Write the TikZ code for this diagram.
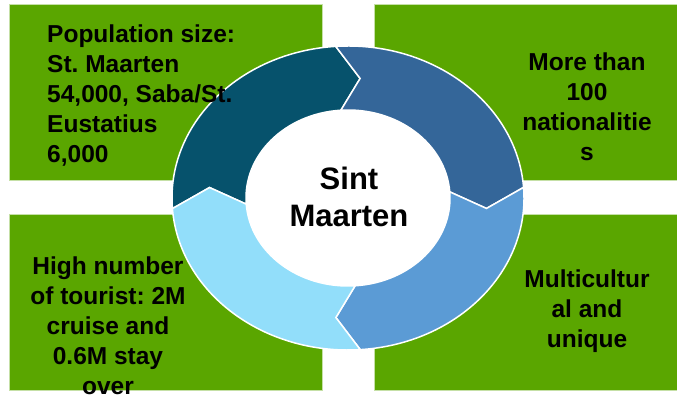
\documentclass[tikz,border=0pt]{standalone}
\usepackage{fontspec}
\setmainfont{Liberation Sans}
\usepackage{tikz}
\usetikzlibrary{positioning}
\frenchspacing
\definecolor{boxgreen}{RGB}{90,166,0}
\definecolor{segdark}{RGB}{6,82,108}
\definecolor{segmid}{RGB}{52,102,153}
\definecolor{seglight}{RGB}{91,155,213}
\definecolor{segcyan}{RGB}{146,222,250}
\tikzset{
    infobox/.style={fill=boxgreen, draw=boxgreen!35!white, line width=0.6pt},
    boxtext/.style={inner sep=0pt, align=center, font=\bfseries\fontsize{24.5}{30}\selectfont},
    hubtext/.style={inner sep=0pt, align=center, font=\bfseries\fontsize{31}{37}\selectfont},
    ringseg/.style={draw=white, line width=1.5pt, line join=miter},
}
\newcommand{\segment}[2]{%
    \path[ringseg, fill=#2] (#1:176 and 152)
        arc[start angle=#1, end angle=#1-90, x radius=176, y radius=152]
        -- (#1-99:139 and 120) -- (#1-90:102 and 88)
        arc[start angle=#1-90, end angle=#1, x radius=102, y radius=88]
        -- (#1-9:139 and 120) -- cycle;}

\begin{document}
\begin{tikzpicture}[x=1pt, y=1pt]
    \useasboundingbox (0,0) rectangle (677,396);

    \path[infobox] (9,216) rectangle (322,392);
    \path[infobox] (374,216) rectangle (677,392);
    \path[infobox] (9,6) rectangle (322,182);
    \path[infobox] (374,6) rectangle (677,182);

    \begin{scope}[shift={(348,198)}]
        \fill[white] (0,0) ellipse[x radius=102, y radius=88];
        \segment{184}{segdark}
        \segment{94}{segmid}
        \segment{4}{seglight}
        \segment{-86}{segcyan}
    \end{scope}

    \node[hubtext] (hub) at (349,199) {Sint\\Maarten};

    \node[boxtext, align=left, anchor=north west] (popnote) at (47,371.7) {Population size:\\St. Maarten\\54,000, Saba/St.\\Eustatius\\6,000};
    \node[boxtext, anchor=north] (natnote) at (587,343.7) {More than\\100\\nationalitie\\s};
    \node[boxtext, anchor=north] (tournote) at (108,139) {High number\\of tourist: 2M\\cruise and\\0.6M stay\\over};
    \node[boxtext, anchor=north] (cultnote) at (587,126) {Multicultur\\al and\\unique};
\end{tikzpicture}
\end{document}
